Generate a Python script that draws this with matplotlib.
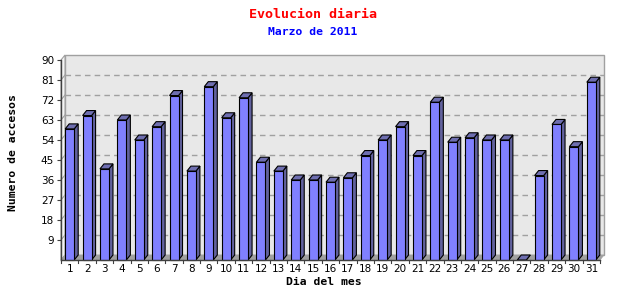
import matplotlib
matplotlib.use("Agg")
import matplotlib.pyplot as plt
from matplotlib.patches import Polygon, Rectangle

days = [str(d) for d in range(1, 32)]
visits = [59, 65, 41, 63, 54, 60, 74, 40, 78, 64, 73, 44, 40, 36, 36, 35, 37, 47,
          54, 60, 47, 71, 53, 55, 54, 54, 0, 38, 61, 51, 80]
y_ticks = [9, 18, 27, 36, 45, 54, 63, 72, 81, 90]

title = "Evolucion diaria"
subtitle = "Marzo de 2011"
xlabel = "Dia del mes"
ylabel = "Numero de accesos"

W, H = 640, 300
fig = plt.figure(figsize=(W / 100, H / 100), dpi=100)
fig.patch.set_facecolor("white")

# plot frame in pixels
x_left, x_right = 61, 600
y_bottom, y_top = 260, 60
ax = fig.add_axes([x_left / W, 1 - y_bottom / H, (x_right - x_left) / W, (y_bottom - y_top) / H])
n = len(visits)
ymax = 90
ax.set_xlim(0.5, n + 0.5)
ax.set_ylim(0, ymax)
ax.set_facecolor("none")
for s in ax.spines.values():
    s.set_visible(False)

px_x = n / (x_right - x_left)
px_y = ymax / (y_bottom - y_top)
dx = 4 * px_x
dy = 5 * px_y
x0, x1 = 0.5, n + 0.5

# back wall
ax.add_patch(Rectangle((x0 + dx, dy), x1 - x0, ymax, facecolor="#E8E8E8",
                       edgecolor="#A0A0A0", lw=1.0, clip_on=False, zorder=0))
# left wall
ax.add_patch(Polygon([(x0, 0), (x0 + dx, dy), (x0 + dx, ymax + dy), (x0, ymax)],
                     closed=True, facecolor="#F4F4F4", edgecolor="#A0A0A0", lw=0.8,
                     clip_on=False, zorder=0.5))
# floor
ax.add_patch(Polygon([(x0, 0), (x1, 0), (x1 + dx, dy), (x0 + dx, dy)], closed=True,
                     facecolor="#A0A0A0", edgecolor="#A0A0A0", lw=0.5, clip_on=False, zorder=0.6))
# grid lines on back wall
for v in y_ticks[:-1]:
    ax.plot([x0 + dx, x1 + dx], [v + dy, v + dy], color="#A0A0A0", lw=1.0,
            ls=(0, (4, 3)), zorder=0.7, clip_on=False)
    ax.plot([x0, x0 + dx], [v, v + dy], color="#A0A0A0", lw=0.8, zorder=0.7, clip_on=False)

# bars
bw = 9 * px_x
front = "#8080FF"
side = "#62629E"
top = "#6E6EB0"
for i, v in enumerate(visits):
    c = i + 1
    a, b = c - bw / 2, c + bw / 2
    ax.add_patch(Polygon([(b, 0), (b + dx, dy), (b + dx, v + dy), (b, v)], closed=True,
                         facecolor=side, edgecolor="black", lw=0.8, zorder=2, clip_on=False))
    ax.add_patch(Polygon([(a, v), (b, v), (b + dx, v + dy), (a + dx, v + dy)], closed=True,
                         facecolor=top, edgecolor="black", lw=0.8, zorder=2, clip_on=False))
    if v > 0:
        ax.add_patch(Rectangle((a, 0), bw, v, facecolor=front, edgecolor="black",
                               lw=0.8, zorder=3, clip_on=False))

# axes lines
ax.plot([x0, x0], [0, ymax], color="#404040", lw=1.0, zorder=4, clip_on=False)
ax.plot([x0, x1], [0, 0], color="#404040", lw=1.0, zorder=4, clip_on=False)

ax.set_yticks(y_ticks)
ax.set_yticklabels([str(t) for t in y_ticks])
ax.set_xticks(range(1, n + 1))
ax.set_xticklabels(days)
ax.tick_params(axis="y", length=3, width=0.8, color="#404040", pad=2, labelsize=7.5)
ax.tick_params(axis="x", length=0, pad=3, labelsize=7.5)
# category boundary tick marks
for k in range(n + 1):
    ax.plot([x0 + k, x0 + k], [0, -3 * px_y], color="#404040", lw=0.8, clip_on=False, zorder=4)

mono = "DejaVu Sans Mono"
fig.text(313 / W, 1 - 14 / H, title, color="red", fontsize=9.6, fontweight="bold",
         family=mono, ha="center", va="center")
fig.text(313 / W, 1 - 32 / H, subtitle, color="blue", fontsize=8.2, fontweight="bold",
         family=mono, ha="center", va="center")
fig.text(324 / W, 1 - 282 / H, xlabel, color="black", fontsize=8.2, fontweight="bold",
         family=mono, ha="center", va="center")
fig.text(13 / W, 1 - 153 / H, ylabel, color="black", fontsize=8.2, fontweight="bold",
         family=mono, ha="center", va="center", rotation=90)

fig.savefig("out.png", dpi=100, facecolor="white")
